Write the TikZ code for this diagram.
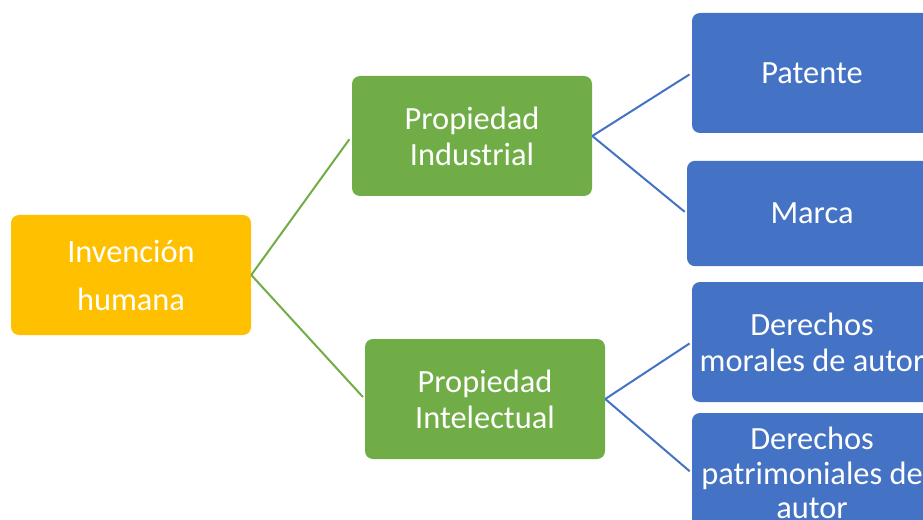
\documentclass[tikz,border=0pt]{standalone}
\usepackage{fontspec}
\setmainfont{Carlito}
\definecolor{naranja}{HTML}{FFC000}
\definecolor{verde}{HTML}{70AD47}
\definecolor{azul}{HTML}{4472C4}
\tikzset{
  caja/.style={rounded corners=6pt, text=white, align=center,
    minimum width=180pt, minimum height=90pt, inner sep=0pt,
    font=\fontsize{24.3}{27}\selectfont},
  rama/.style={line width=1.5pt},
}
\begin{document}
\begin{tikzpicture}[x=0.75pt, y=-0.75pt]
  \useasboundingbox (0,0) rectangle (923,520);
  \clip (0,0) rectangle (923,520);

  \node[caja, fill=naranja, font=\fontsize{24.3}{36}\selectfont] (inv) at (131, 275) {Invención\\humana};
  \node[caja, fill=verde] (pind) at (472, 136) {Propiedad\\Industrial};
  \node[caja, fill=verde] (pint) at (485, 399) {Propiedad\\Intelectual};
  \node[caja, fill=azul] (pat) at (812, 73) {Patente};
  \node[caja, fill=azul, minimum width=187.5pt, minimum height=79pt] (mar) at (812, 213.5) {Marca};
  \node[caja, fill=azul] (mor) at (812, 342) {Derechos\\morales de autor};
  \node[caja, fill=azul, font=\fontsize{24.3}{26}\selectfont] (patr) at (812, 473) {Derechos\\patrimoniales de\\autor};

  \draw [rama, verde, shorten >=3pt] (inv.east) -- (pind.west);
  \draw [rama, verde, shorten >=2pt] (inv.east) -- (pint.west);

  \draw [rama, azul, shorten >=2pt] (pind.east) -- (pat.west);
  \draw [rama, azul, shorten >=2pt] (pind.east) -- (mar.west);
  \draw [rama, azul, shorten >=2pt] (pint.east) -- (mor.west);
  \draw [rama, azul, shorten >=2pt] (pint.east) -- (patr.west);
\end{tikzpicture}
\end{document}
